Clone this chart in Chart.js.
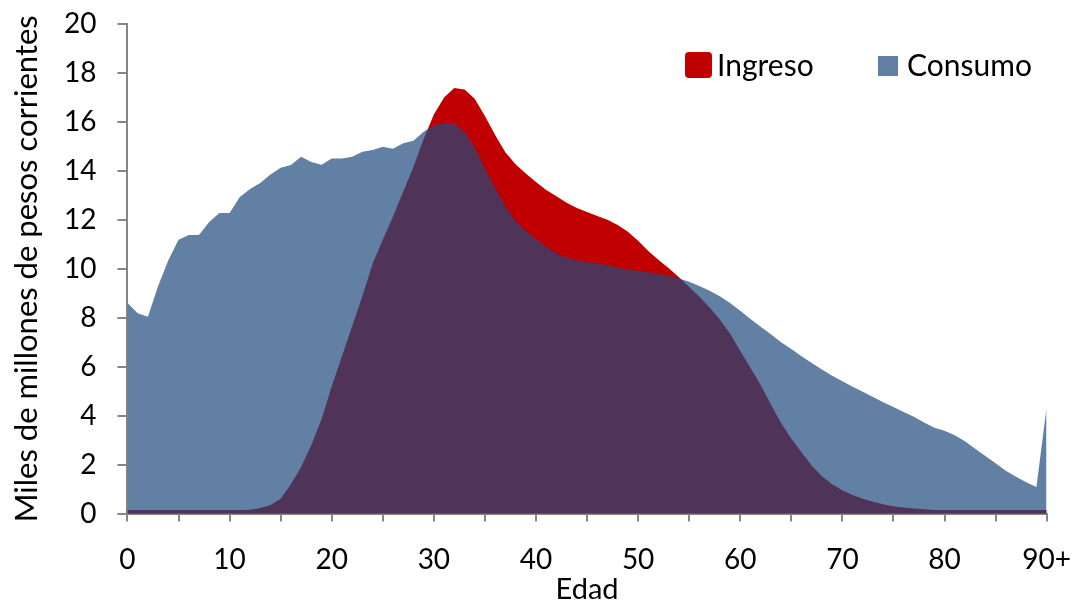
<!DOCTYPE html>
<html><head><meta charset="utf-8">
<script src="https://cdn.jsdelivr.net/npm/chart.js@4.4.1/dist/chart.umd.min.js"></script>
<style>
html,body{margin:0;padding:0;background:#fff;}
#wrap{position:relative;width:1075px;height:605px;}
.lg-box{position:absolute;}
.lg-text{position:absolute;font-family:Lato,sans-serif;font-size:30px;line-height:30px;color:#000;white-space:nowrap;}
</style>
</head><body><div id="wrap"><canvas id="c" width="1075" height="605"></canvas>
<div id="legend"></div></div>
<script>
const ages = [0,1,2,3,4,5,6,7,8,9,10,11,12,13,14,15,16,17,18,19,20,21,22,23,24,25,26,27,28,29,30,31,32,33,34,35,36,37,38,39,40,41,42,43,44,45,46,47,48,49,50,51,52,53,54,55,56,57,58,59,60,61,62,63,64,65,66,67,68,69,70,71,72,73,74,75,76,77,78,79,80,81,82,83,84,85,86,87,88,89,90];
const ingreso = [0.07,0.07,0.07,0.07,0.07,0.07,0.08,0.08,0.08,0.09,0.1,0.12,0.15,0.22,0.35,0.6,1.2,1.9,2.8,3.85,5.2,6.43,7.65,8.88,10.2,11.18,12.13,13.15,14.17,15.3,16.3,17.0,17.38,17.32,16.95,16.24,15.46,14.76,14.27,13.89,13.54,13.22,12.96,12.7,12.48,12.32,12.16,12.0,11.79,11.51,11.14,10.73,10.36,10.02,9.65,9.25,8.86,8.42,7.93,7.35,6.64,5.95,5.25,4.45,3.7,3.05,2.5,1.95,1.52,1.2,0.95,0.76,0.6,0.48,0.38,0.3,0.25,0.2,0.17,0.14,0.12,0.1,0.09,0.08,0.07,0.06,0.06,0.05,0.05,0.05,0.05];
const consumo = [8.6,8.18,8.04,9.3,10.35,11.18,11.38,11.38,11.91,12.28,12.28,12.93,13.26,13.5,13.85,14.13,14.24,14.58,14.36,14.25,14.5,14.5,14.58,14.78,14.85,14.98,14.9,15.13,15.23,15.6,15.85,15.95,15.95,15.6,14.95,14.1,13.3,12.55,11.95,11.55,11.2,10.9,10.63,10.45,10.35,10.28,10.2,10.15,10.05,9.97,9.92,9.86,9.8,9.7,9.6,9.47,9.3,9.1,8.88,8.6,8.28,7.95,7.63,7.32,7.0,6.72,6.42,6.15,5.88,5.63,5.4,5.18,4.97,4.76,4.55,4.35,4.15,3.95,3.72,3.5,3.38,3.2,2.95,2.65,2.35,2.05,1.75,1.5,1.28,1.08,4.35];
const xTickValues = [0,10,20,30,40,50,60,70,80,90];
const xTickLabels = ['0','10','20','30','40','50','60','70','80','90+'];
const seriesNames = ['Ingreso','Consumo'];
const xTitle = 'Edad';
const yTitle = 'Miles de millones de pesos corrientes';

const toPoints = arr => ages.map((a, i) => ({x: a, y: arr[i]}));
const baseline = ages.map(a => ({x: a, y: 0}));
const FONT = 'Lato';
const AXIS = '#868686';
const RED = '#C00000';
const BLUE = 'rgba(31,73,125,0.7)';

// HTML legend (placed inside the plot area, top right)
const legendSpec = [
  {name: seriesNames[0], color: RED, box: {left: 685, top: 52, w: 27, h: 26, r: 4}, textLeft: 717},
  {name: seriesNames[1], color: BLUE, box: {left: 878, top: 56, w: 20, h: 20, r: 0}, textLeft: 907}
];
const lg = document.getElementById('legend');
legendSpec.forEach(s => {
  const b = document.createElement('div');
  b.className = 'lg-box';
  Object.assign(b.style, {left: s.box.left + 'px', top: s.box.top + 'px', width: s.box.w + 'px', height: s.box.h + 'px', background: s.color, borderRadius: s.box.r + 'px'});
  lg.appendChild(b);
  const t = document.createElement('div');
  t.className = 'lg-text';
  t.textContent = s.name;
  Object.assign(t.style, {left: s.textLeft + 'px', top: '49px'});
  lg.appendChild(t);
});

new Chart(document.getElementById('c'), {
  type: 'line',
  data: {
    datasets: [
      {label: seriesNames[0], data: toPoints(ingreso), order: 1, fill: 'origin',
       backgroundColor: RED, borderColor: RED, borderWidth: 0, pointRadius: 0, tension: 0},
      {label: seriesNames[1], data: toPoints(consumo), order: 0, fill: 'origin',
       backgroundColor: BLUE, borderColor: BLUE, borderWidth: 0, pointRadius: 0, tension: 0},
      {label: 'base', data: baseline, order: 2, fill: false,
       borderColor: RED, borderWidth: 7, pointRadius: 0, tension: 0}
    ]
  },
  options: {
    responsive: false,
    devicePixelRatio: 1,
    animation: false,
    layout: {padding: {top: 24, right: 0, left: 0, bottom: 0}},
    plugins: {
      tooltip: {enabled: false},
      legend: {display: false}
    },
    scales: {
      x: {
        type: 'linear', min: 0, max: 90, z: 1,
        ticks: {
          stepSize: 5, autoSkip: false, maxRotation: 0, minRotation: 0,
          font: {family: FONT, size: 28, lineHeight: 69 / 28}, color: '#000', padding: 4,
          callback(v) { const k = xTickValues.indexOf(v); return k >= 0 ? xTickLabels[k] : ''; }
        },
        grid: {drawOnChartArea: false, tickLength: 8, color: AXIS, lineWidth: 2},
        border: {color: AXIS, width: 2},
        title: {display: true, text: xTitle, font: {family: FONT, size: 29, lineHeight: 1}, color: '#000', padding: {top: -23.5, bottom: 1}}
      },
      y: {
        min: 0, max: 20, z: 1,
        ticks: {stepSize: 2, font: {family: FONT, size: 28, lineHeight: 0.1}, color: '#000', padding: 21},
        grid: {drawOnChartArea: false, tickLength: 10, color: AXIS, lineWidth: 2},
        border: {color: AXIS, width: 2},
        title: {display: true, text: yTitle, font: {family: FONT, size: 31, lineHeight: 1}, color: '#000', padding: {top: 11, bottom: 1}}
      }
    }
  }
});
</script>
</body></html>
